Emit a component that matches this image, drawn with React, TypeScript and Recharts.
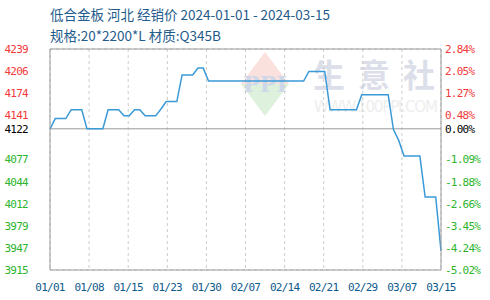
import React from 'react';
import { LineChart, Line, XAxis, YAxis, CartesianGrid, ReferenceLine } from 'recharts';

// Daily dealer price (元/吨), one value per calendar day from 2024-01-01 to 2024-03-15
const prices = [
  4122, 4137, 4137, 4137, 4150, 4150, 4150, 4122, 4122, 4122,
  4122, 4150, 4150, 4150, 4141, 4141, 4150, 4150, 4141, 4141,
  4141, 4151, 4162, 4162, 4162, 4201, 4201, 4201, 4211, 4211,
  4192, 4192, 4192, 4192, 4192, 4192, 4192, 4192, 4192, 4192,
  4192, 4192, 4192, 4192, 4192, 4192, 4192, 4192, 4192, 4206,
  4206, 4206, 4206, 4150, 4150, 4150, 4150, 4150, 4150, 4172,
  4172, 4172, 4172, 4172, 4172, 4121, 4105, 4082, 4082, 4082,
  4082, 4022, 4022, 4022, 3943,
];

// Reference price (first day) — percentage axis is relative to it
const basePrice = 4122;

// X axis: day offsets of the ticks and their labels
const xTickDays = [0, 7.4, 14.8, 22.2, 29.6, 37, 44.4, 51.8, 59.2, 66.6, 74];
const xTickLabels = ['01/01', '01/08', '01/15', '01/23', '01/30', '02/07', '02/14', '02/21', '02/29', '03/07', '03/15'];

// Y axis ticks with left (price) and right (change) labels
const yTickValues = [3915, 3947.4, 3979.8, 4012.2, 4044.6, 4077, 4109.4, 4141.8, 4174.2, 4206.6, 4239];
const priceTickLabels = ['3915', '3947', '3979', '4012', '4044', '4077', '', '4141', '4174', '4206', '4239'];
const pctTickLabels = ['-5.02%', '-4.24%', '-3.45%', '-2.66%', '-1.88%', '-1.09%', '', '0.48%', '1.27%', '2.05%', '2.84%'];
const basePriceLabel = '4122';
const basePctLabel = '0.00%';

const titleLines = ['低合金板 河北 经销价 2024-01-01 - 2024-03-15', '规格:20*2200*L 材质:Q345B'];
const markChars = ['生', '意', '社'];

const data = prices.map((price, day) => ({ day, price }));

const RED = '#f23a3a';
const GREEN = '#2db52d';
const AXIS = '#9a9a9a';
const tickFont = {
  fontFamily: '"DejaVu Sans Mono", monospace',
  fontSize: 11,
  letterSpacing: -0.75,
};

const colorFor = (v: number) => (v === basePrice ? '#000' : v > basePrice ? RED : GREEN);

const makeYTick = (side: 'left' | 'right') => (props: any) => {
  const { x, y, payload, textAnchor } = props;
  const v = payload.value as number;
  let label = '';
  if (v === basePrice) {
    label = side === 'left' ? basePriceLabel : basePctLabel;
  } else {
    const i = yTickValues.indexOf(v);
    if (i >= 0) label = side === 'left' ? priceTickLabels[i] : pctTickLabels[i];
  }
  if (!label) return <g />;
  return (
    <text x={x} y={y} dy="0.36em" textAnchor={textAnchor} fill={colorFor(v)} style={tickFont}>
      {label}
    </text>
  );
};

const XTick = (props: any) => {
  const { x, y, payload } = props;
  const i = xTickDays.indexOf(payload.value);
  return (
    <text x={x} y={y} dy="0.71em" textAnchor="middle" fill="#0d5a8c" style={tickFont}>
      {i >= 0 ? xTickLabels[i] : ''}
    </text>
  );
};

// Faint site mark sitting behind the plot
const SiteMark = () => (
  <svg width={490} height={300} style={{ position: 'absolute', left: 0, top: 0 }}>
    <polygon points="265,52 289,84 241,84" fill="#fbe1dd" />
    <polygon points="241,84 289,84 265,116" fill="#ddf1dd" />
    <text x={265} y={92} textAnchor="middle" fill="#cfd8e8" fontFamily="DejaVu Serif, serif" fontSize={22} fontWeight="bold">
      PPI
    </text>
    {markChars.map((c, i) => (
      <text
        key={c}
        x={313 + i * 45}
        y={87}
        fill="#dcdfe9"
        fontFamily='"Noto Sans CJK SC", sans-serif'
        fontSize={32}
        fontWeight="bold"
      >
        {c}
      </text>
    ))}
    <text x={314} y={112} fill="#eeeeee" fontFamily="DejaVu Sans, sans-serif" fontSize={15} textLength={124}>
      WWW.100PPI.COM
    </text>
  </svg>
);

export default function App() {
  return (
    <div style={{ position: 'absolute', left: 0, top: 0, width: 490, height: 300, background: '#fff' }}>
      <SiteMark />
      <div
        style={{
          position: 'absolute',
          left: 50,
          top: 4,
          fontFamily: '"Noto Sans CJK SC", sans-serif',
          fontSize: 13.5,
          lineHeight: '21px',
          color: '#1f5c8b',
          whiteSpace: 'nowrap',
        }}
      >
        {titleLines.map((t) => (
          <div key={t}>{t}</div>
        ))}
      </div>
      <div style={{ position: 'absolute', left: 0, top: 0 }}>
        <LineChart width={490} height={300} data={data} margin={{ top: 49, right: 0, bottom: 0, left: 0 }}>
          <CartesianGrid stroke="#cccccc" strokeDasharray="3 3" />
          <XAxis
            dataKey="day"
            type="number"
            domain={[0, 74]}
            ticks={xTickDays}
            interval={0}
            tick={<XTick />}
            tickLine={false}
            tickSize={0}
            tickMargin={13}
            height={30}
            axisLine={{ stroke: AXIS }}
          />
          <YAxis
            yAxisId="left"
            orientation="left"
            type="number"
            domain={[3915, 4239]}
            ticks={[...yTickValues, basePrice]}
            interval={0}
            width={50}
            tick={makeYTick('left')}
            tickLine={false}
            tickSize={0}
            tickMargin={22}
            axisLine={{ stroke: AXIS }}
            allowDataOverflow
          />
          <YAxis
            yAxisId="right"
            orientation="right"
            type="number"
            domain={[3915, 4239]}
            ticks={[...yTickValues, basePrice]}
            interval={0}
            width={49}
            tick={makeYTick('right')}
            tickLine={false}
            tickSize={0}
            tickMargin={4}
            axisLine={{ stroke: AXIS }}
            allowDataOverflow
          />
          <ReferenceLine yAxisId="left" y={4239} stroke={AXIS} />
          <ReferenceLine yAxisId="left" y={basePrice} stroke={AXIS} />
          <Line
            yAxisId="left"
            type="linear"
            dataKey="price"
            stroke="#3a9ad8"
            strokeWidth={1.5}
            dot={false}
            isAnimationActive={false}
          />
        </LineChart>
      </div>
    </div>
  );
}
